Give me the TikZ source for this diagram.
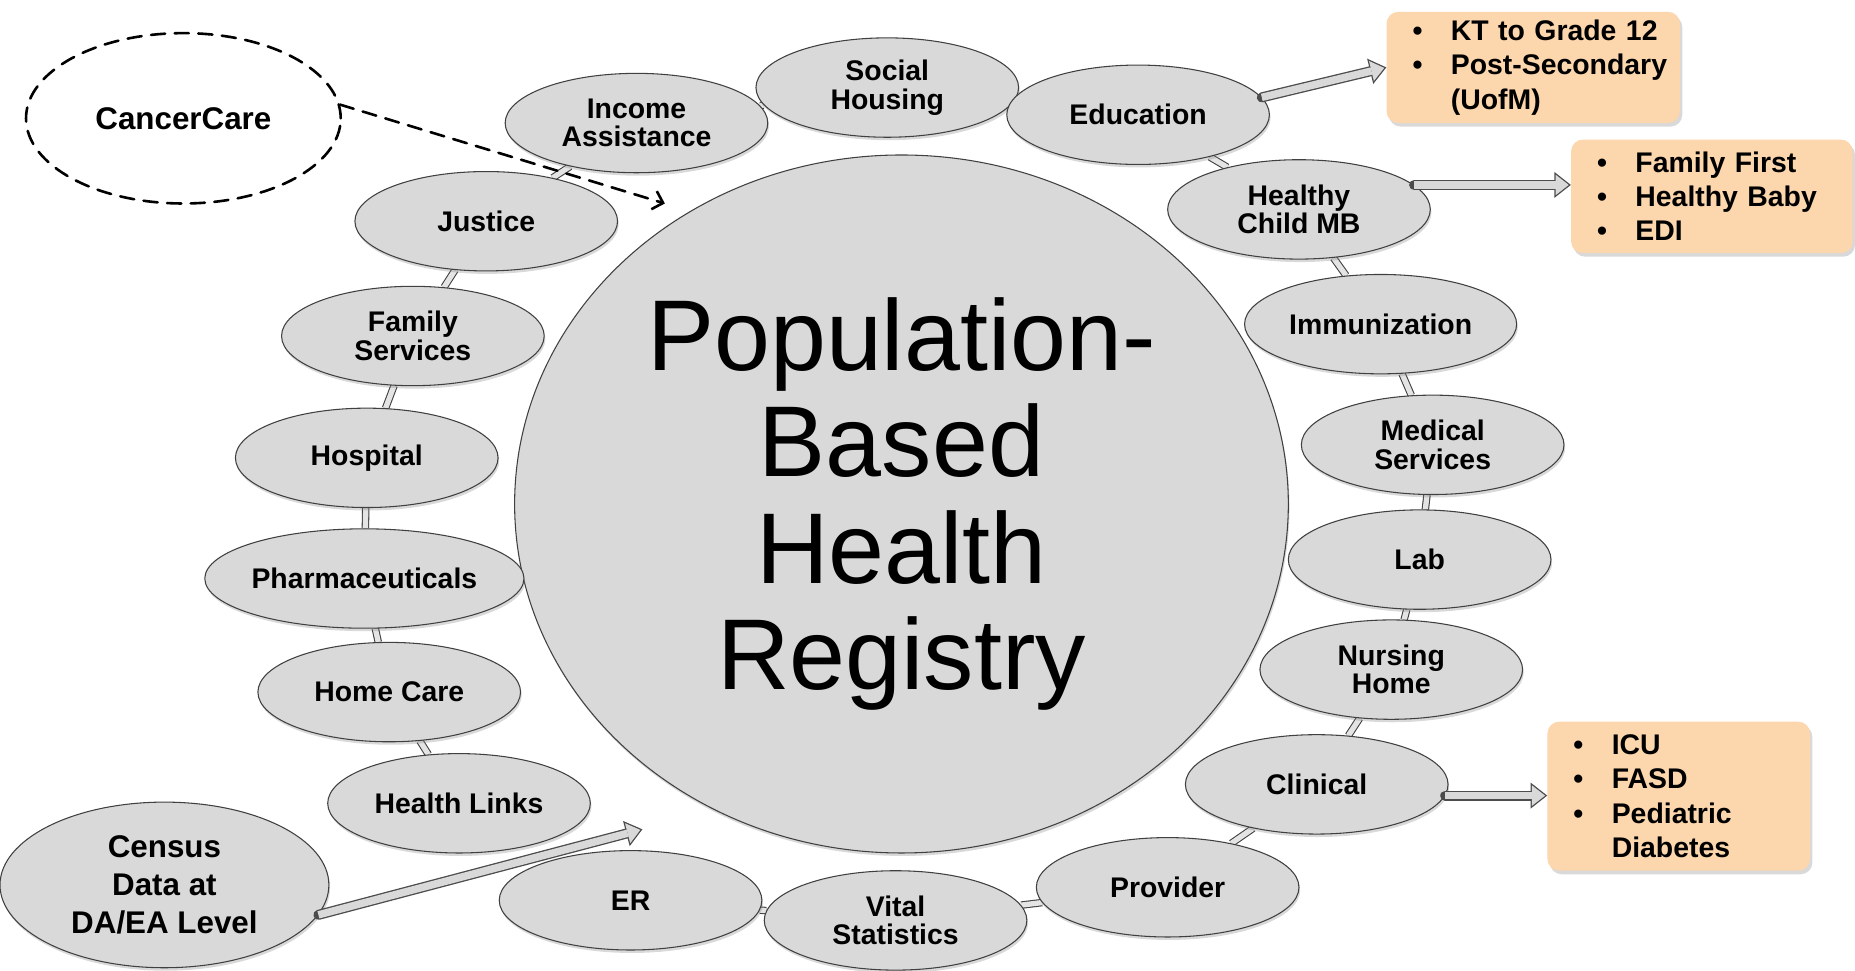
\documentclass[tikz,border=0pt]{standalone}
\usepackage{fontspec}
\setmainfont{Liberation Sans}
\usetikzlibrary{shapes.geometric,arrows.meta,shadows}
\definecolor{bubblegray}{RGB}{217,217,217}
\definecolor{notepeach}{RGB}{252,214,172}
\pgfdeclarelayer{background}
\pgfsetlayers{background,main}

\begin{document}
\begin{tikzpicture}[x=1pt, y=-1pt, line join=round, line cap=round, >=stealth,
	bubble/.style={ellipse, draw=black!75, fill=bubblegray, line width=0.9pt, inner sep=0pt,
		minimum width=222pt, minimum height=84pt, align=center,
		font=\bfseries\fontsize{24}{24}\selectfont,
		drop shadow={opacity=0.3, shadow xshift=1pt, shadow yshift=-2.5pt}},
	note/.style={rounded corners=10pt, fill=notepeach, inner xsep=22pt, inner ysep=0pt, align=left,
		font=\bfseries\fontsize{24}{29}\selectfont,
		drop shadow={opacity=0.3, shadow xshift=2pt, shadow yshift=-3pt}},
	link/.style={draw=black!75, line width=0.9pt, double=bubblegray!70, double distance=4.5pt},
	hollow/.style={line cap=butt, draw=bubblegray, line width=6.3pt, shorten >=1.8pt,
		-{Triangle[length=11.1pt, width=17.4pt, line width=0pt, sharp]},
		preaction={draw=black!70, line width=8.5pt, shorten >=0pt,
			-{Triangle[length=14pt, width=22pt, line width=0pt, sharp]}}},
	dashy/.style={line width=2.2pt, dash pattern=on 12pt off 8pt}]
	\def\bul#1{\mbox{\textbullet\hspace{24pt}#1}}
	\def\nobul#1{\mbox{\phantom{\textbullet}\hspace{24pt}#1}}
	\useasboundingbox (0,0) rectangle (1568,820);
	%\draw[gray!40] (0,0) grid[step=50] (1568,820);

	\node[ellipse, draw=black!75, fill=bubblegray, line width=0.9pt, inner sep=0pt,
		minimum width=654pt, minimum height=590pt, align=center, font=\fontsize{85}{90}\selectfont,
		drop shadow={opacity=0.3, shadow xshift=1pt, shadow yshift=-2.5pt}]
		(registry) at (762,426) {Population-\\Based\\Health\\Registry};

	% ring of data sources
	\node[bubble] (income) at (538,104) {Income\\Assistance};
	\node[bubble] (social) at (750,74) {Social\\Housing};
	\node[bubble] (edu) at (962,97) {Education};
	\node[bubble] (hcmb) at (1098,177) {Healthy\\Child MB};
	\node[bubble, minimum width=230pt] (immun) at (1167,274) {Immunization};
	\node[bubble] (medical) at (1211,376) {Medical\\Services};
	\node[bubble] (lab) at (1200,473) {Lab};
	\node[bubble] (nursing) at (1176,566) {Nursing\\Home};
	\node[bubble] (clin) at (1113,663) {Clinical};
	\node[bubble] (provider) at (987,750) {Provider};
	\node[bubble] (vital) at (757,778) {Vital\\Statistics};
	\node[bubble] (er) at (533,761) {ER};
	\node[bubble] (links) at (388,679) {Health Links};
	\node[bubble] (home) at (329,585) {Home Care};
	\node[bubble, minimum width=234pt] (pharma) at (308,489) {Pharmaceuticals};
	\node[bubble] (hospital) at (310,387) {Hospital};
	\node[bubble] (family) at (349,284) {Family\\Services};
	\node[bubble] (justice) at (411,187) {Justice};

	\node[bubble, minimum width=278pt, minimum height=140pt, font=\bfseries\fontsize{26.5}{32}\selectfont]
		(census) at (139,748) {Census\\Data at\\DA/EA Level};
	\node[ellipse, draw, dashy, minimum width=266pt, minimum height=144pt,
		font=\bfseries\fontsize{26.5}{32}\selectfont] (cancer) at (155,100) {CancerCare};

	% sub-registries
	\node[note, text width=204pt, minimum height=94pt] (kt) at (1296,57)
		{\bul{KT to Grade 12}\\ \bul{Post-Secondary}\\ \nobul{(UofM)}};
	\node[note, text width=194pt, minimum height=96pt] (fam) at (1447,166)
		{\bul{Family First}\\ \bul{Healthy Baby}\\ \bul{EDI}};
	\node[note, text width=178pt, minimum height=126pt] (icu) at (1419,673)
		{\bul{ICU}\\ \bul{FASD}\\ \bul{Pediatric}\\ \nobul{Diabetes}};

	\begin{pgfonlayer}{background}
		\draw[link] (income) -- (social);
		\draw[link] (social) -- (edu);
		\draw[link] (edu) -- (hcmb);
		\draw[link] (hcmb) -- (immun);
		\draw[link] (immun) -- (medical);
		\draw[link] (medical) -- (lab);
		\draw[link] (lab) -- (nursing);
		\draw[link] (nursing) -- (clin);
		\draw[link] (clin) -- (provider);
		\draw[link] (provider) -- (vital);
		\draw[link] (vital) -- (er);
		\draw[link] (links) -- (home);
		\draw[link] (home) -- (pharma);
		\draw[link] (pharma) -- (hospital);
		\draw[link] (hospital) -- (family);
		\draw[link] (family) -- (justice);
		\draw[link] (justice) -- (income);
	\end{pgfonlayer}

	\coordinate (cctip) at (562,172);
	\coordinate (censustip) at (543,701);
	\draw[dashy, -{Straight Barb[length=8pt, width=16pt]}] (cancer.5) -- (cctip);
	\draw[hollow] (census.-11) -- (censustip);
	\draw[hollow] (edu.8) -- (kt.west);
	\draw[hollow] (hcmb.12) -- (hcmb.12 -| fam.west);
	\draw[hollow] (clin.-5) -- (clin.-5 -| icu.west);
\end{tikzpicture}
\end{document}
